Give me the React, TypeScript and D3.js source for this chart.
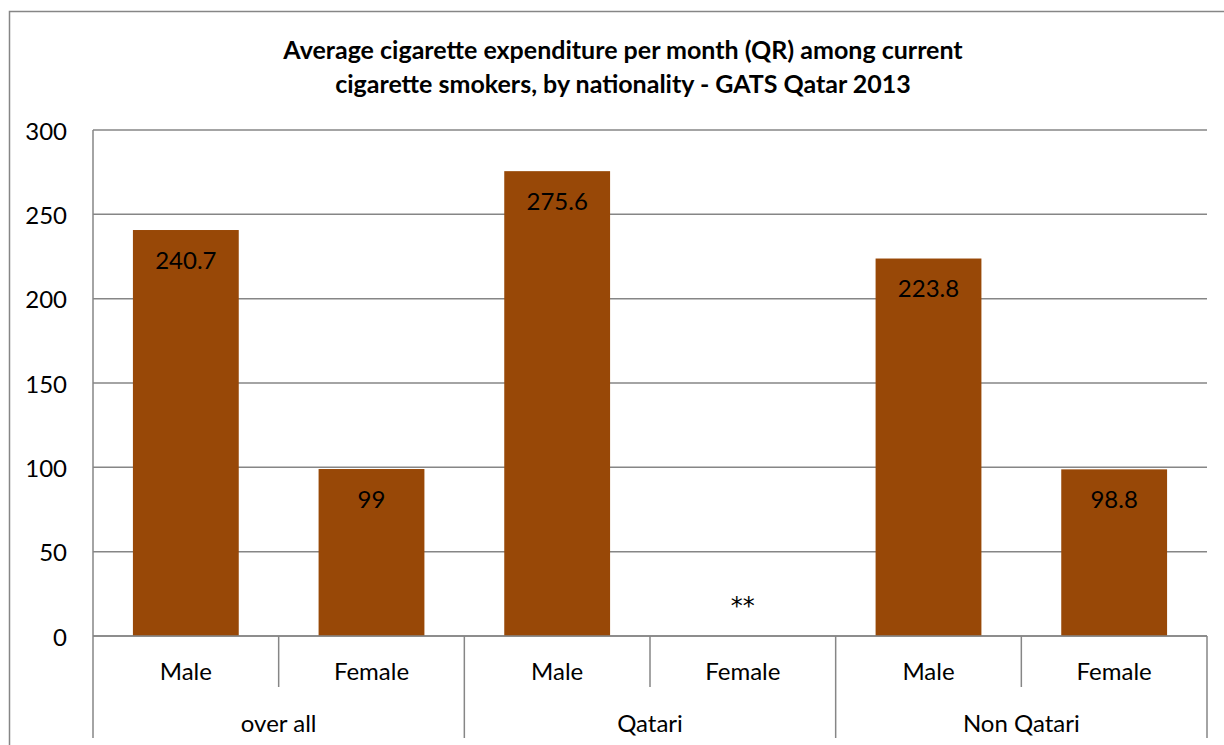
import React from "react";
import * as d3 from "d3";

// Chart data
const groups = ["over all", "Qatari", "Non Qatari"];
const sexes = ["Male", "Female"];
const maleValues = [240.7, 275.6, 223.8];
const femaleValues: (number | null)[] = [99, null, 98.8];
const yTicks = [0, 50, 100, 150, 200, 250, 300];
const titleLines = [
  "Average cigarette expenditure per month (QR) among current",
  "cigarette smokers, by nationality - GATS Qatar 2013",
];
const missingLabel = "**";

const W = 1224;
const H = 745;
const plot = { left: 93, right: 1207, top: 130, bottom: 636 };
const FONT = "Lato, 'Open Sans', sans-serif";
const BAR = "#984807";
const GRID = "#868686";

export default function App() {
  const rows = groups.flatMap((g, gi) =>
    sexes.map((s, si) => ({
      key: `${g}|${s}`,
      group: g,
      sex: s,
      value: si === 0 ? maleValues[gi] : femaleValues[gi],
    }))
  );

  const x = d3
    .scaleBand<string>()
    .domain(rows.map((r) => r.key))
    .range([plot.left, plot.right])
    .paddingInner(0.43)
    .paddingOuter(0.215);

  const y = d3.scaleLinear().domain([0, 300]).range([plot.bottom, plot.top]);

  const catW = (plot.right - plot.left) / rows.length;
  const catEdges = d3.range(rows.length + 1).map((i) => plot.left + i * catW);
  const groupWidth = (plot.right - plot.left) / groups.length;

  return (
    <svg
      width={W}
      height={H}
      style={{ position: "absolute", left: 0, top: 0, background: "#fff" }}
      fontFamily={FONT}
    >
      <rect x={9.5} y={11.5} width={1300} height={900} fill="#fff" stroke={GRID} strokeWidth={1.5} />

      {titleLines.map((t, i) => (
        <text
          key={i}
          x={623}
          y={49 + i * 34}
          textAnchor="middle"
          dominantBaseline="central"
          fontWeight="bold"
          fontSize={25}
          fill="#000"
        >
          {t}
        </text>
      ))}

      {/* gridlines and y tick labels */}
      {yTicks.map((t) => (
        <g key={t}>
          <line x1={plot.left} x2={plot.right} y1={y(t)} y2={y(t)} stroke={GRID} strokeWidth={1.5} />
          <text
            x={67}
            y={y(t)}
            textAnchor="end"
            dominantBaseline="central"
            fontSize={24}
            fill="#000"
          >
            {t}
          </text>
        </g>
      ))}
      <line x1={plot.left} x2={plot.left} y1={plot.top} y2={plot.bottom} stroke={GRID} strokeWidth={1.5} />

      {/* bars */}
      {rows.map((r) =>
        r.value != null ? (
          <rect
            key={r.key}
            x={x(r.key)}
            y={y(r.value)}
            width={x.bandwidth()}
            height={y(0) - y(r.value)}
            fill={BAR}
          />
        ) : null
      )}

      {/* value labels */}
      {rows.map((r) => (
        <text
          key={r.key + "-lab"}
          x={(x(r.key) ?? 0) + x.bandwidth() / 2}
          y={r.value != null ? y(r.value) + 29 : y(0) - 30}
          textAnchor="middle"
          dominantBaseline="central"
          fontSize={24}
          fontFamily={r.value != null ? FONT : "'DejaVu Sans', sans-serif"}
          fill="#000"
        >
          {r.value != null ? String(r.value) : missingLabel}
        </text>
      ))}

      {/* category axis */}
      <line x1={plot.left} x2={plot.right} y1={plot.bottom} y2={plot.bottom} stroke={GRID} strokeWidth={1.5} />
      {catEdges.map((cx, i) => (
        <line
          key={"e" + i}
          x1={cx}
          x2={cx}
          y1={plot.bottom}
          y2={i % 2 === 0 ? 738 : 687}
          stroke={GRID}
          strokeWidth={1.5}
        />
      ))}
      {rows.map((r, i) => (
        <text
          key={r.key + "-cat"}
          x={plot.left + (i + 0.5) * catW}
          y={670}
          textAnchor="middle"
          dominantBaseline="central"
          fontSize={24}
          fill="#000"
        >
          {r.sex}
        </text>
      ))}
      {groups.map((g, i) => (
        <text
          key={g}
          x={plot.left + (i + 0.5) * groupWidth}
          y={722}
          textAnchor="middle"
          dominantBaseline="central"
          fontSize={24}
          fill="#000"
        >
          {g}
        </text>
      ))}
    </svg>
  );
}
